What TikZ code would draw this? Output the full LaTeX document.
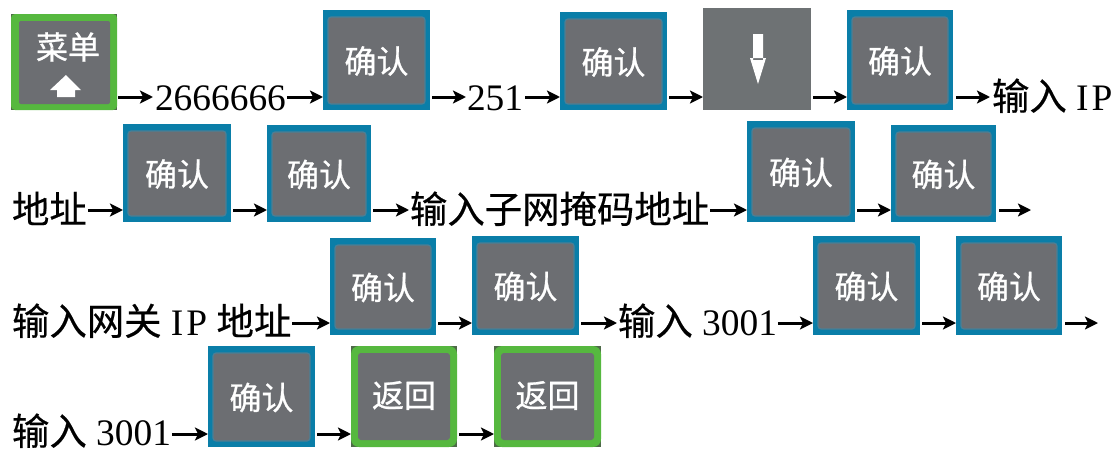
\documentclass[tikz,border=0pt]{standalone}
\usepackage{fontspec}
\setmainfont{Liberation Serif}
\newfontfamily\cjk[FakeBold=0.4]{Noto Sans CJK SC}
\newfontfamily\cjkkey[FakeBold=0.8]{Noto Sans CJK SC}
\usetikzlibrary{arrows.meta,calc}
\definecolor{keygray}{HTML}{6C6E72}
\definecolor{downgray}{HTML}{6E7274}
\definecolor{keyblue}{HTML}{0A7EA8}
\definecolor{keyedge}{HTML}{4A7F96}
\definecolor{keygreen}{HTML}{56B83F}
\definecolor{keydark}{HTML}{4E6B48}
\tikzset{
  x=1pt,y=-1pt,
  arr/.style={-{Stealth[length=13pt,width=13pt,inset=3pt]},line width=3pt,black},
  txt/.style={anchor=base west,inner sep=0pt,outer sep=0pt,font=\fontsize{37.4}{37.4}\selectfont,text=black},
  keytxt/.style={inner sep=0pt,text=white,font=\cjkkey\fontsize{32}{32}\selectfont},
  keybox/.style={inner sep=0pt,outer sep=0pt,draw=none,anchor=north west},
}
% name, x0, y0, x1, y1, label
\newcommand{\bluekey}[6]{%
  \node[keybox,fill=keyblue,minimum width=#4pt-#2pt,minimum height=#5pt-#3pt] (#1) at (#2,#3) {};
  \filldraw[fill=keygray,draw=keyedge,line width=1.2pt,rounded corners=3pt] (#2+5,#3+7) rectangle (#4-5,#5-6);
  \node[keytxt] (#1t) at ($(#1.center)+(0,1)$) {#6};}
\newcommand{\greenkey}[6]{%
  \node[keybox,fill=keydark,minimum width=#4pt-#2pt,minimum height=#5pt-#3pt] (#1) at (#2,#3) {};
  \fill[keygreen,rounded corners=8pt] (#2,#3) rectangle (#4,#5);
  \fill[keygray,rounded corners=3pt] (#2+7,#3+7) rectangle (#4-7,#5-7);
  \node[keytxt] (#1t) at ($(#1.center)+(0,-1)$) {#6};}
\begin{document}
\begin{tikzpicture}
\useasboundingbox (0,0) rectangle (1118,450);
\coordinate (r1) at (0,97);
\coordinate (r2) at (0,210);
\coordinate (r3) at (0,323);
\coordinate (r4) at (0,434);
% row 1
\node[keybox,fill=keydark,minimum width=106pt,minimum height=96pt] (menu) at (11,14) {};
\fill[keygreen,rounded corners=4pt] (11,14) rectangle (117,110);
\fill[keygray,rounded corners=2pt] (19,21) rectangle (110,104);
\node[keytxt] (menut) at (68,47) {菜单};
\fill[white] (50,90) -- (66,75) -- (81,90) -- (75,90) -- (75,97) -- (57,97) -- (57,90) -- cycle;
\node[txt] (n1) at (155,110) {2666666};
\bluekey{k1}{323}{10}{430}{110}{确认}
\node[txt] (n2) at (467,110) {251};
\bluekey{k2}{560}{12}{667}{110}{确认}
\node[keybox,fill=downgray,minimum width=108pt,minimum height=102pt] (down) at (703,8) {};
\fill[white] (753,34) rectangle (763,60) (750,58) -- (766,58) -- (758,84) -- cycle;
\bluekey{k3}{847}{10}{953}{110}{确认}
\node[txt] (t1) at (992,110) {{\cjk 输入} I\kern3pt P};
\draw[arr] ($(menu.east |- r1)+(1,0)$) -- ($(n1.west |- r1)+(-2,0)$);
\draw[arr] ($(n1.east |- r1)+(1,0)$) -- (k1.west |- r1);
\draw[arr] ($(k1.east |- r1)+(2,0)$) -- ($(n2.west |- r1)+(-1,0)$);
\draw[arr] ($(n2.east |- r1)+(2,0)$) -- (k2.west |- r1);
\draw[arr] ($(k2.east |- r1)+(2,0)$) -- (down.west |- r1);
\draw[arr] ($(down.east |- r1)+(2,0)$) -- (k3.west |- r1);
\draw[arr] ($(k3.east |- r1)+(3,0)$) -- ($(t1.west |- r1)+(-2,0)$);
% row 2
\node[txt] (t2) at (12,223) {\cjk 地址};
\bluekey{k4}{123}{124}{231}{222}{确认}
\bluekey{k5}{267}{125}{371}{222}{确认}
\node[txt] (t3) at (410,223) {\cjk 输入子网掩码地址};
\bluekey{k6}{747}{121}{855}{222}{确认}
\bluekey{k7}{891}{125}{996}{222}{确认}
\coordinate (e2) at (1031,210);
\draw[arr] ($(t2.east |- r2)+(1,0)$) -- (k4.west |- r2);
\draw[arr] ($(k4.east |- r2)+(2,0)$) -- (k5.west |- r2);
\draw[arr] ($(k5.east |- r2)+(2,0)$) -- ($(t3.west |- r2)+(-1,0)$);
\draw[arr] ($(t3.east |- r2)+(1,0)$) -- (k6.west |- r2);
\draw[arr] ($(k6.east |- r2)+(2,0)$) -- (k7.west |- r2);
\draw[arr] ($(k7.east |- r2)+(3,0)$) -- (e2);
% row 3
\node[txt] (t4) at (12,335) {{\cjk 输入网关} I\kern3pt P {\cjk 地址}};
\bluekey{k8}{330}{238}{436}{335}{确认}
\bluekey{k9}{472}{236}{579}{335}{确认}
\node[txt] (t5) at (618,335) {{\cjk 输入} 3001};
\bluekey{k10}{813}{236}{920}{335}{确认}
\bluekey{k11}{956}{236}{1062}{335}{确认}
\coordinate (e3) at (1098,323);
\draw[arr] ($(t4.east |- r3)+(1,0)$) -- (k8.west |- r3);
\draw[arr] ($(k8.east |- r3)+(2,0)$) -- (k9.west |- r3);
\draw[arr] ($(k9.east |- r3)+(2,0)$) -- ($(t5.west |- r3)+(-1,0)$);
\draw[arr] ($(t5.east |- r3)+(1,0)$) -- (k10.west |- r3);
\draw[arr] ($(k10.east |- r3)+(2,0)$) -- (k11.west |- r3);
\draw[arr] ($(k11.east |- r3)+(3,0)$) -- (e3);
% row 4
\node[txt] (t6) at (12,445) {{\cjk 输入} 3001};
\bluekey{k12}{208}{346}{315}{447}{确认}
\greenkey{k13}{351}{346}{457}{447}{返回}
\greenkey{k14}{494}{346}{601}{447}{返回}
\draw[arr] ($(t6.east |- r4)+(1,0)$) -- (k12.west |- r4);
\draw[arr] ($(k12.east |- r4)+(2,0)$) -- (k13.west |- r4);
\draw[arr] ($(k13.east |- r4)+(2,0)$) -- (k14.west |- r4);
\end{tikzpicture}
\end{document}
